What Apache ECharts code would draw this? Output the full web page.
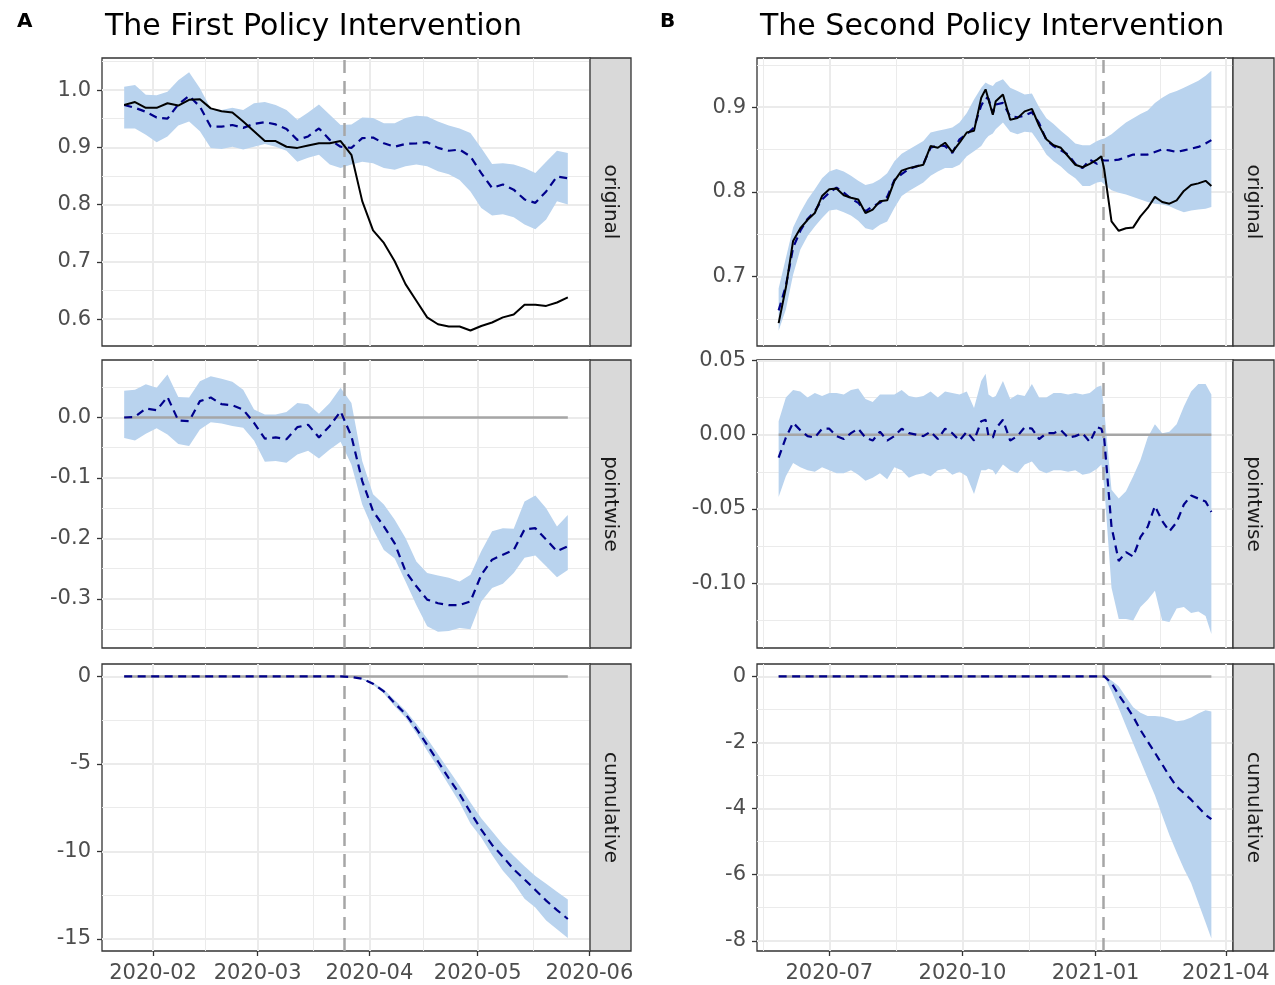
<!DOCTYPE html>
<html><head><meta charset="utf-8">
<script src="https://cdn.jsdelivr.net/npm/echarts@6/dist/echarts.min.js"></script>
<style>html,body{margin:0;padding:0;background:#fff}#c{width:1275px;height:985px}</style>
</head><body><div id="c"></div><script>
// ---------------- Panel A : The First Policy Intervention ----------------
const aDates = ['2020-01-24','2020-01-27','2020-01-30','2020-02-02','2020-02-05','2020-02-08','2020-02-11','2020-02-14','2020-02-17','2020-02-20','2020-02-23','2020-02-26','2020-02-29','2020-03-03','2020-03-06','2020-03-09','2020-03-12','2020-03-15','2020-03-18','2020-03-21','2020-03-24','2020-03-27','2020-03-30','2020-04-02','2020-04-05','2020-04-08','2020-04-11','2020-04-14','2020-04-17','2020-04-20','2020-04-23','2020-04-26','2020-04-29','2020-05-02','2020-05-05','2020-05-08','2020-05-11','2020-05-14','2020-05-17','2020-05-20','2020-05-23','2020-05-26'];
const aOrigActual = [0.974,0.979,0.969,0.969,0.977,0.973,0.983,0.984,0.968,0.963,0.961,0.945,0.928,0.911,0.911,0.901,0.899,0.903,0.907,0.907,0.911,0.887,0.806,0.755,0.733,0.701,0.661,0.632,0.603,0.591,0.587,0.587,0.580,0.588,0.594,0.603,0.608,0.625,0.625,0.623,0.629,0.638];
const aOrigPred = [0.974,0.969,0.962,0.952,0.950,0.975,0.990,0.971,0.936,0.936,0.939,0.934,0.941,0.944,0.940,0.932,0.913,0.919,0.933,0.913,0.901,0.899,0.916,0.917,0.907,0.901,0.906,0.907,0.909,0.899,0.894,0.896,0.884,0.855,0.829,0.835,0.826,0.809,0.803,0.823,0.849,0.846];
const aOrigHi = [1.006,1.009,0.992,0.991,0.997,1.017,1.031,1.003,0.968,0.965,0.969,0.965,0.977,0.979,0.974,0.965,0.948,0.961,0.975,0.957,0.939,0.940,0.952,0.951,0.942,0.942,0.951,0.955,0.954,0.945,0.938,0.933,0.925,0.899,0.871,0.872,0.870,0.864,0.855,0.875,0.894,0.890];
const aOrigLo = [0.933,0.933,0.922,0.909,0.919,0.938,0.945,0.928,0.899,0.897,0.901,0.896,0.901,0.906,0.901,0.894,0.875,0.882,0.887,0.870,0.864,0.870,0.875,0.872,0.864,0.861,0.867,0.870,0.867,0.858,0.853,0.843,0.823,0.794,0.781,0.783,0.778,0.765,0.757,0.774,0.806,0.800];
const aPwPred = [0.000,0.001,0.015,0.012,0.034,-0.005,-0.006,0.027,0.033,0.022,0.020,0.013,-0.009,-0.035,-0.033,-0.036,-0.016,-0.012,-0.033,-0.014,0.010,-0.031,-0.105,-0.155,-0.180,-0.208,-0.254,-0.279,-0.301,-0.307,-0.310,-0.310,-0.304,-0.260,-0.235,-0.227,-0.219,-0.185,-0.183,-0.202,-0.221,-0.213];
const aPwHi = [0.044,0.046,0.055,0.049,0.071,0.034,0.033,0.060,0.068,0.064,0.059,0.046,0.013,0.005,0.005,0.009,0.024,0.022,0.006,0.024,0.049,0.024,-0.072,-0.127,-0.144,-0.169,-0.199,-0.238,-0.257,-0.261,-0.265,-0.271,-0.260,-0.221,-0.188,-0.183,-0.184,-0.139,-0.129,-0.150,-0.180,-0.161];
const aPwLo = [-0.034,-0.038,-0.027,-0.018,-0.028,-0.044,-0.047,-0.020,-0.008,-0.010,-0.014,-0.017,-0.038,-0.073,-0.072,-0.075,-0.061,-0.055,-0.068,-0.053,-0.040,-0.078,-0.144,-0.185,-0.219,-0.233,-0.271,-0.310,-0.345,-0.354,-0.353,-0.348,-0.350,-0.304,-0.282,-0.275,-0.257,-0.232,-0.228,-0.246,-0.264,-0.252];
const aCumDates = ['2020-01-24','2020-03-24','2020-03-27','2020-03-30','2020-04-02','2020-04-05','2020-04-08','2020-04-11','2020-04-14','2020-04-17','2020-04-20','2020-04-23','2020-04-26','2020-04-29','2020-05-02','2020-05-05','2020-05-08','2020-05-11','2020-05-14','2020-05-17','2020-05-20','2020-05-23','2020-05-26'];
const aCumPred = [0,0,-0.03,-0.13,-0.42,-0.86,-1.53,-2.15,-2.99,-3.91,-4.86,-5.82,-6.73,-7.76,-8.75,-9.63,-10.30,-11.02,-11.60,-12.20,-12.81,-13.35,-13.86];
const aCumHi = [0,0,-0.02,-0.10,-0.35,-0.75,-1.35,-1.95,-2.70,-3.55,-4.45,-5.35,-6.25,-7.20,-8.10,-8.85,-9.60,-10.25,-10.85,-11.40,-11.85,-12.30,-12.75];
const aCumLo = [0,0,-0.04,-0.16,-0.48,-0.97,-1.70,-2.35,-3.25,-4.25,-5.20,-6.20,-7.20,-8.40,-9.20,-10.20,-11.10,-11.80,-12.70,-13.20,-13.95,-14.45,-14.95];
const aIntervention = '2020-03-25';
const aXTicks = ['2020-02-01','2020-03-01','2020-04-01','2020-05-01','2020-06-01'];
const aXMinor = ['2020-02-15T12:00','2020-03-16T12:00','2020-04-16','2020-05-16T12:00'];
const aOrigTicks = [0.6,0.7,0.8,0.9,1.0], aOrigMinor = [0.65,0.75,0.85,0.95,1.05];
const aPwTicks = [-0.3,-0.2,-0.1,0.0], aPwMinor = [-0.35,-0.25,-0.15,-0.05,0.05];
const aCumTicks = [-15,-10,-5,0], aCumMinor = [-12.5,-7.5,-2.5];

// ---------------- Panel B : The Second Policy Intervention ----------------
const bDates = ['2020-05-27','2020-06-01','2020-06-06','2020-06-11','2020-06-16','2020-06-21','2020-06-26','2020-07-01','2020-07-06','2020-07-11','2020-07-16','2020-07-21','2020-07-26','2020-07-31','2020-08-05','2020-08-10','2020-08-15','2020-08-20','2020-08-25','2020-08-30','2020-09-04','2020-09-09','2020-09-14','2020-09-19','2020-09-24','2020-09-29','2020-10-04','2020-10-09','2020-10-14','2020-10-17','2020-10-19','2020-10-22','2020-10-24','2020-10-29','2020-11-03','2020-11-08','2020-11-13','2020-11-18','2020-11-23','2020-11-28','2020-12-03','2020-12-08','2020-12-13','2020-12-18','2020-12-23','2020-12-28','2021-01-02','2021-01-05','2021-01-07','2021-01-12','2021-01-17','2021-01-22','2021-01-27','2021-02-01','2021-02-06','2021-02-11','2021-02-16','2021-02-21','2021-02-26','2021-03-03','2021-03-08','2021-03-13','2021-03-18','2021-03-22'];
const bOrigActual = [0.645,0.687,0.742,0.757,0.767,0.775,0.795,0.803,0.804,0.796,0.793,0.791,0.775,0.779,0.789,0.790,0.813,0.825,0.828,0.830,0.832,0.854,0.852,0.858,0.847,0.858,0.870,0.872,0.911,0.921,0.909,0.891,0.907,0.915,0.885,0.887,0.895,0.898,0.878,0.862,0.855,0.852,0.842,0.832,0.829,0.833,0.838,0.842,0.826,0.765,0.754,0.757,0.758,0.771,0.781,0.794,0.788,0.786,0.790,0.801,0.808,0.810,0.813,0.807];
const bOrigPred = [0.660,0.689,0.734,0.754,0.768,0.777,0.791,0.799,0.805,0.799,0.792,0.787,0.777,0.783,0.787,0.794,0.814,0.821,0.827,0.830,0.833,0.852,0.855,0.854,0.846,0.862,0.868,0.876,0.902,0.911,0.910,0.893,0.903,0.905,0.889,0.888,0.890,0.894,0.881,0.861,0.854,0.849,0.844,0.833,0.828,0.838,0.833,0.838,0.837,0.837,0.838,0.841,0.844,0.844,0.844,0.847,0.850,0.849,0.847,0.849,0.851,0.853,0.857,0.861];
const bOrigHi = [0.686,0.722,0.758,0.776,0.791,0.803,0.816,0.824,0.827,0.824,0.819,0.813,0.808,0.810,0.815,0.822,0.836,0.845,0.850,0.855,0.860,0.870,0.872,0.874,0.876,0.882,0.893,0.909,0.923,0.929,0.927,0.925,0.929,0.933,0.923,0.919,0.915,0.916,0.900,0.887,0.880,0.872,0.865,0.857,0.855,0.855,0.860,0.862,0.863,0.868,0.875,0.882,0.887,0.892,0.896,0.905,0.911,0.916,0.919,0.923,0.927,0.931,0.937,0.943];
const bOrigLo = [0.636,0.661,0.702,0.732,0.748,0.759,0.769,0.778,0.779,0.776,0.772,0.766,0.757,0.755,0.761,0.765,0.781,0.795,0.801,0.806,0.811,0.819,0.824,0.828,0.828,0.832,0.842,0.848,0.854,0.862,0.866,0.869,0.874,0.882,0.871,0.868,0.871,0.870,0.858,0.844,0.836,0.830,0.822,0.816,0.807,0.807,0.811,0.812,0.809,0.802,0.799,0.797,0.794,0.791,0.788,0.786,0.785,0.783,0.779,0.776,0.778,0.779,0.780,0.782];
const bPwPred = [-0.0155,-0.002,0.008,0.003,-0.001,-0.002,0.004,0.004,-0.001,-0.003,0.001,0.004,-0.002,-0.004,0.002,-0.004,-0.001,0.004,0.001,0.000,-0.001,0.002,-0.003,0.004,0.001,-0.004,0.002,-0.004,0.009,0.010,-0.001,-0.002,0.004,0.010,-0.004,-0.001,0.005,0.004,-0.003,0.001,0.001,0.003,-0.002,-0.001,0.001,-0.005,0.005,0.004,-0.003,-0.062,-0.085,-0.079,-0.082,-0.069,-0.062,-0.048,-0.058,-0.065,-0.059,-0.047,-0.041,-0.043,-0.045,-0.052];
const bPwHi = [0.009,0.025,0.030,0.029,0.025,0.028,0.026,0.028,0.028,0.027,0.030,0.031,0.024,0.022,0.027,0.027,0.027,0.030,0.026,0.025,0.026,0.029,0.025,0.029,0.028,0.027,0.029,0.018,0.036,0.041,0.027,0.025,0.026,0.036,0.024,0.027,0.026,0.034,0.025,0.025,0.028,0.028,0.027,0.028,0.027,0.028,0.032,0.033,0.016,-0.037,-0.043,-0.038,-0.028,-0.017,-0.002,0.007,0.001,0.002,0.007,0.019,0.029,0.034,0.034,0.027];
const bPwLo = [-0.042,-0.028,-0.019,-0.022,-0.024,-0.025,-0.022,-0.024,-0.026,-0.026,-0.024,-0.027,-0.031,-0.029,-0.026,-0.030,-0.022,-0.024,-0.029,-0.027,-0.026,-0.028,-0.024,-0.023,-0.027,-0.025,-0.028,-0.040,-0.024,-0.024,-0.023,-0.024,-0.027,-0.020,-0.024,-0.026,-0.020,-0.018,-0.024,-0.026,-0.024,-0.024,-0.025,-0.024,-0.027,-0.026,-0.023,-0.020,-0.035,-0.103,-0.124,-0.124,-0.125,-0.116,-0.111,-0.105,-0.125,-0.126,-0.117,-0.116,-0.120,-0.119,-0.122,-0.134];
const bCumDates = ['2020-05-27','2021-01-07','2021-01-12','2021-01-17','2021-01-22','2021-01-27','2021-02-01','2021-02-06','2021-02-11','2021-02-16','2021-02-21','2021-02-26','2021-03-03','2021-03-08','2021-03-13','2021-03-18','2021-03-22'];
const bCumPred = [0,0,-0.20,-0.56,-0.88,-1.22,-1.62,-1.97,-2.31,-2.66,-3.02,-3.33,-3.53,-3.73,-3.96,-4.19,-4.32];
const bCumHi = [0,0,-0.12,-0.30,-0.62,-0.93,-1.10,-1.20,-1.20,-1.22,-1.28,-1.36,-1.33,-1.24,-1.12,-1.02,-1.06];
const bCumLo = [0,0,-0.45,-0.96,-1.50,-2.03,-2.55,-3.08,-3.60,-4.20,-4.80,-5.32,-5.82,-6.25,-6.85,-7.45,-7.93];
const bIntervention = '2021-01-06';
const bXTicks = ['2020-07-01','2020-10-01','2021-01-01','2021-04-01'];
const bXMinor = ['2020-05-16T12:00','2020-08-16','2020-11-16','2021-02-15'];
const bOrigTicks = [0.7,0.8,0.9], bOrigMinor = [0.65,0.75,0.85,0.95];
const bPwTicks = [-0.10,-0.05,0.00,0.05], bPwMinor = [-0.125,-0.075,-0.025,0.025];
const bCumTicks = [-8,-6,-4,-2,0], bCumMinor = [-7,-5,-3,-1];

const titleA = 'The First Policy Intervention', titleB = 'The Second Policy Intervention';
const stripNames = ['original','pointwise','cumulative'];

// ---------------- build ----------------
const FONT = '"DejaVu Sans", "Noto Sans", sans-serif';
const BAND = '#B9D3EE', PRED = '#00008B', GRID = '#EBEBEB', DARK = '#333333', TXT = '#4D4D4D';
const P = s => +echarts.number.parseDate(s);
const pts = (dates, vals) => dates.map((d, i) => [P(d), vals[i]]);
function xRange(dates) { const a = P(dates[0]), b = P(dates[dates.length - 1]); const p = (b - a) * 0.05; return [a - p, b + p]; }
const fmtMonth = v => { const d = new Date(v); return d.getFullYear() + '-' + String(d.getMonth() + 1).padStart(2, '0'); };

const panels = [
  { left: 102, width: 488, dates: aDates, interv: aIntervention, xTicks: aXTicks, xMinor: aXMinor,
    facets: [
      { ymin: 0.553, ymax: 1.056, ticks: aOrigTicks, minor: aOrigMinor, dec: 1, d: aDates, lo: aOrigLo, hi: aOrigHi, pred: aOrigPred, actual: aOrigActual },
      { ymin: -0.381, ymax: 0.095, ticks: aPwTicks, minor: aPwMinor, dec: 1, d: aDates, lo: aPwLo, hi: aPwHi, pred: aPwPred, zero: true },
      { ymin: -15.69, ymax: 0.71, ticks: aCumTicks, minor: aCumMinor, dec: 0, d: aCumDates, lo: aCumLo, hi: aCumHi, pred: aCumPred, zero: true }
    ] },
  { left: 757, width: 476, dates: bDates, interv: bIntervention, xTicks: bXTicks, xMinor: bXMinor,
    facets: [
      { ymin: 0.618, ymax: 0.958, ticks: bOrigTicks, minor: bOrigMinor, dec: 1, d: bDates, lo: bOrigLo, hi: bOrigHi, pred: bOrigPred, actual: bOrigActual },
      { ymin: -0.1435, ymax: 0.0502, ticks: bPwTicks, minor: bPwMinor, dec: 2, d: bDates, lo: bPwLo, hi: bPwHi, pred: bPwPred, zero: true },
      { ymin: -8.31, ymax: 0.376, ticks: bCumTicks, minor: bCumMinor, dec: 0, d: bCumDates, lo: bCumLo, hi: bCumHi, pred: bCumPred, zero: true }
    ] }
];
const tops = [58, 360, 664], heights = [288, 288, 287];
const STRIP_W = 41;

const grids = [], xAxes = [], yAxes = [], series = [], graphics = [];
let gi = 0;
panels.forEach((pan) => {
  const [xmin, xmax] = xRange(pan.dates);
  pan.facets.forEach((f, fi) => {
    const bottom = fi === 2;
    grids.push({ left: pan.left, top: tops[fi], width: pan.width, height: heights[fi], show: true,
      borderColor: DARK, borderWidth: 1.3, backgroundColor: '#fff', containLabel: false });
    const xi = xAxes.length, yi = yAxes.length;
    xAxes.push({ type: 'value', gridIndex: gi, min: xmin, max: xmax, position: 'bottom',
      axisLine: { show: false, onZero: false },
      axisTick: { show: bottom, length: 5, lineStyle: { color: DARK, width: 1.3 }, customValues: pan.xTicks.map(P) },
      axisLabel: { show: bottom, customValues: pan.xTicks.map(P), margin: 12, color: TXT, fontSize: 21, fontFamily: FONT,
        formatter: fmtMonth },
      splitLine: { show: true, lineStyle: { color: GRID, width: 2 } } });
    xAxes.push({ type: 'value', gridIndex: gi, min: xmin, max: xmax, position: 'bottom',
      axisLine: { show: false, onZero: false }, axisLabel: { show: false },
      axisTick: { show: false, customValues: pan.xMinor.map(P) },
      splitLine: { show: true, lineStyle: { color: GRID, width: 1 } } });
    yAxes.push({ type: 'value', gridIndex: gi, min: f.ymin, max: f.ymax, position: 'left',
      axisLine: { show: false, onZero: false },
      axisTick: { show: true, length: 5, lineStyle: { color: DARK, width: 1.3 }, customValues: f.ticks },
      axisLabel: { show: true, customValues: f.ticks, margin: 11, color: TXT, fontSize: 21, fontFamily: FONT,
        formatter: v => v.toFixed(f.dec) },
      splitLine: { show: true, lineStyle: { color: GRID, width: 2 } } });
    yAxes.push({ type: 'value', gridIndex: gi, min: f.ymin, max: f.ymax, position: 'left',
      axisLine: { show: false, onZero: false }, axisLabel: { show: false },
      axisTick: { show: false, customValues: f.minor },
      splitLine: { show: true, lineStyle: { color: GRID, width: 1 } } });

    // confidence band drawn as one polygon through the axes' own coordinate mapping
    const bandData = f.d.map((d, i) => [P(d), f.lo[i], f.hi[i]]);
    series.push({ type: 'custom', name: 'band' + gi, xAxisIndex: xi, yAxisIndex: yi, silent: true, z: 1,
      data: bandData, encode: { x: 0, y: [1, 2] },
      renderItem: (params, api) => {
        if (params.dataIndex !== 0) return null;
        const up = bandData.map(r => api.coord([r[0], r[2]]));
        const dn = bandData.map(r => api.coord([r[0], r[1]])).reverse();
        return { type: 'polygon', shape: { points: up.concat(dn) }, style: { fill: BAND } };
      } });
    const base = { type: 'line', xAxisIndex: xi, yAxisIndex: yi, symbol: 'none', silent: true, animation: false };
    if (f.zero) {
      series.push(Object.assign({}, base, { name: 'zero' + gi,
        data: [[P(f.d[0]), 0], [P(f.d[f.d.length - 1]), 0]],
        lineStyle: { color: '#A6A6A6', width: 2.5 }, z: 2 }));
    }
    series.push(Object.assign({}, base, { name: 'pred' + gi, data: pts(f.d, f.pred),
      lineStyle: { color: PRED, width: 2.2, type: [8, 5.5] }, z: 4,
      markLine: { silent: true, symbol: ['none', 'none'], label: { show: false }, animation: false, z: 3,
        lineStyle: { color: '#A6A6A6', width: 2.5, type: [13, 8] },
        data: [{ xAxis: P(pan.interv) }] } }));
    if (f.actual) {
      series.push(Object.assign({}, base, { name: 'actual' + gi, data: pts(f.d, f.actual),
        lineStyle: { color: '#000', width: 2 }, z: 5 }));
    }
    const sx = pan.left + pan.width, sy = tops[fi];
    graphics.push({ type: 'rect', silent: true, z: 10,
      shape: { x: sx, y: sy, width: STRIP_W, height: heights[fi] },
      style: { fill: '#D9D9D9', stroke: DARK, lineWidth: 1.3 } });
    graphics.push({ type: 'text', silent: true, z: 11, x: sx + STRIP_W / 2, y: sy + heights[fi] / 2, rotation: -Math.PI / 2,
      style: { text: stripNames[fi], fill: '#1A1A1A', fontSize: 20, fontFamily: FONT, align: 'center', verticalAlign: 'middle' } });
    gi++;
  });
});

const option = {
  animation: false,
  backgroundColor: '#fff',
  title: [
    { text: 'A', left: 12, top: 7, textStyle: { fontSize: 20, fontWeight: 'bold', color: '#000', fontFamily: FONT } },
    { text: titleA, left: 100, top: 7, textStyle: { fontSize: 30, fontWeight: 'normal', color: '#000', fontFamily: FONT } },
    { text: 'B', left: 655, top: 7, textStyle: { fontSize: 20, fontWeight: 'bold', color: '#000', fontFamily: FONT } },
    { text: titleB, left: 755, top: 7, textStyle: { fontSize: 30, fontWeight: 'normal', color: '#000', fontFamily: FONT } }
  ],
  grid: grids, xAxis: xAxes, yAxis: yAxes, series: series, graphic: graphics
};
const chart = echarts.init(document.getElementById('c'), null, { renderer: 'canvas', width: 1275, height: 985 });
chart.setOption(option);
</script></body></html>
